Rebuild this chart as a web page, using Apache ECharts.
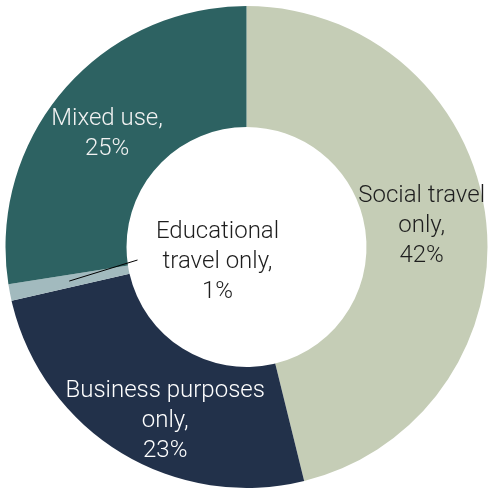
<!DOCTYPE html>
<html>
<head>
<meta charset="utf-8">
<script src="https://cdn.jsdelivr.net/npm/echarts@6/dist/echarts.min.js"></script>
<style>
  html, body { margin: 0; padding: 0; background: #ffffff; }
  #chart { width: 490px; height: 489px; }
</style>
</head>
<body>
<div id="chart"></div>
<script>
// Share of trips by purpose
const categories = ['Social travel only', 'Business purposes only', 'Educational travel only', 'Mixed use'];
const values = [42, 23, 1, 25];
const labelNames = ['Social travel\nonly,', 'Business purposes\nonly,', 'Educational\ntravel only,', 'Mixed use,'];
const colors = ['#C5CDB6', '#22314A', '#A2BABE', '#2D6262'];
const labelColors = ['#1E1E1E', '#FFFFFF', '#1E1E1E', '#F2F2F2'];

const CENTER = [246.5, 247];
const R_IN = 120;
const R_OUT = 241;
const FONT = 'Roboto, "Noto Sans", sans-serif';
const SMALL = 2; // index of the slice whose label sits in the hole

const total = values.reduce((a, b) => a + b, 0);

// Point on the ring at the middle angle of a slice (clockwise from 12 o'clock)
function midPoint(idx, r) {
  let before = 0;
  for (let i = 0; i < idx; i++) before += values[i];
  const a = (before + values[idx] / 2) / total * 2 * Math.PI;
  return [CENTER[0] + r * Math.sin(a), CENTER[1] - r * Math.cos(a)];
}

const labelOffsets = [[-7, 1], [15, 18], [0, 0], [0, 6]];
const SMALL_LABEL = [CENTER[0] - 29, CENTER[1] + 15];

const data = categories.map((name, i) => {
  const item = {
    name: name,
    value: values[i],
    itemStyle: { color: colors[i] },
    label: {
      color: labelColors[i],
      offset: labelOffsets[i]
    }
  };
  if (i === SMALL) {
    item.label = {
      position: 'outside',
      color: labelColors[i],
      width: 150,
      overflow: 'none'
    };
  }
  return item;
});

// Leader line from the thin slice to its label
const anchor = midPoint(SMALL, (R_IN + R_OUT) / 2);
const lineEnd = [SMALL_LABEL[0] - 80, SMALL_LABEL[1] - 2];

const chart = echarts.init(document.getElementById('chart'), null, { renderer: 'canvas' });
chart.setOption({
  animation: false,
  backgroundColor: '#ffffff',
  series: [{
    type: 'pie',
    center: CENTER,
    radius: [R_IN, R_OUT],
    startAngle: 90,
    clockwise: true,
    avoidLabelOverlap: false,
    itemStyle: { borderWidth: 0 },
    label: {
      show: true,
      position: 'inside',
      fontFamily: FONT,
      fontWeight: 300,
      fontSize: 24,
      lineHeight: 30,
      align: 'center',
      formatter: (p) => labelNames[p.dataIndex] + '\n' + Math.round(p.value) + '%'
    },
    labelLine: { show: false },
    labelLayout: function (params) {
      if (params.dataIndex !== SMALL) return {};
      return {
        x: SMALL_LABEL[0],
        y: SMALL_LABEL[1],
        align: 'center',
        verticalAlign: 'middle'
      };
    },
    emphasis: { disabled: true },
    data: data
  }],
  graphic: [{
    type: 'polyline',
    z: 10,
    shape: { points: [anchor, lineEnd] },
    style: { stroke: '#000000', lineWidth: 1, fill: null }
  }]
});
</script>
</body>
</html>
